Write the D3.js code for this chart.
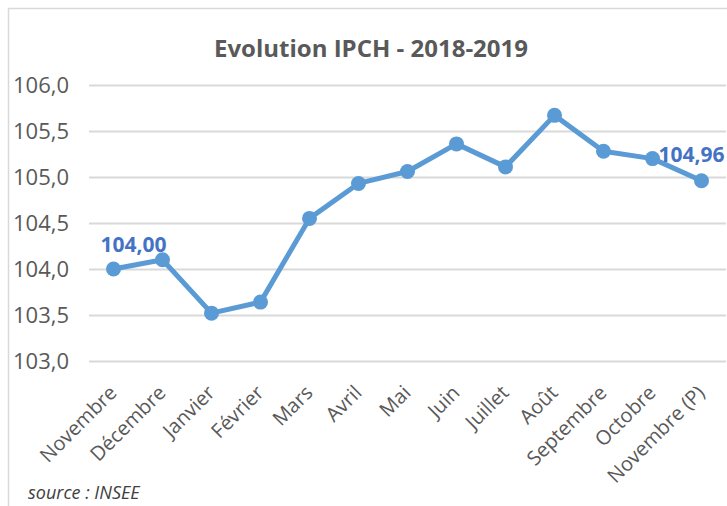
<!DOCTYPE html>
<html>
<head>
<meta charset="utf-8">
<script src="https://cdn.jsdelivr.net/npm/d3@7"></script>
<style>
  body { margin: 0; background: #fff; }
  text { font-family: "Open Sans", "Noto Sans", sans-serif; }
</style>
</head>
<body>
<div id="chart"></div>
<script>
// IPCH monthly index, Nov 2018 - Nov 2019
const months = ["Novembre", "Décembre", "Janvier", "Février", "Mars", "Avril", "Mai",
  "Juin", "Juillet", "Août", "Septembre", "Octobre", "Novembre (P)"];
const ipch = [104.00, 104.10, 103.52, 103.64, 104.55, 104.93, 105.06,
  105.36, 105.11, 105.67, 105.28, 105.20, 104.96];
const yTicks = [103.0, 103.5, 104.0, 104.5, 105.0, 105.5, 106.0];
const labelled = [0, 12];

const width = 727,
    height = 506;

const fmt = d3.formatLocale({ decimal: ",", thousands: " ", grouping: [3], currency: ["", "€"] });

let svg = d3.select("#chart")
    .append("svg")
    .attr("width", width)
    .attr("height", height);

// chart frame (cut by the screenshot on the right and bottom)
svg.append("rect")
    .attr("x", 8.5).attr("y", 8.5)
    .attr("width", width + 20).attr("height", height + 20)
    .attr("fill", "none")
    .attr("stroke", "#d9d9d9")
    .attr("stroke-width", 1.5);

svg.append("text")
    .attr("x", 371).attr("y", 57)
    .attr("text-anchor", "middle")
    .attr("font-size", "24px")
    .attr("font-weight", "bold")
    .attr("fill", "#595959")
    .text("Evolution IPCH - 2018-2019");

let x = d3.scalePoint()
    .domain(months)
    .range([89, 726])
    .padding(0.5);

let y = d3.scaleLinear()
    .domain([103, 106])
    .range([361, 85]);

// gridlines + y labels
let yAxis = svg.append("g")
    .attr("transform", "translate(89,0)")
    .call(d3.axisLeft(y)
        .tickValues(yTicks)
        .tickSize(-637)
        .tickPadding(20)
        .tickFormat(fmt.format(".1f")));
yAxis.select(".domain").remove();
yAxis.selectAll(".tick line")
    .attr("stroke", "#d9d9d9")
    .attr("stroke-width", 2);
yAxis.selectAll(".tick text")
    .attr("fill", "#595959")
    .attr("font-size", "22px");

// x labels
let xAxis = svg.append("g")
    .attr("transform", "translate(0,361)")
    .call(d3.axisBottom(x).tickSize(0));
xAxis.select(".domain").remove();
xAxis.selectAll(".tick text")
    .attr("fill", "#595959")
    .attr("font-size", "20px")
    .attr("text-anchor", "end")
    .attr("y", 0).attr("dy", 0)
    .attr("transform", "translate(4,33) rotate(-45)");

let line = d3.line()
    .x((d, i) => x(months[i]))
    .y(d => y(d));

svg.append("path")
    .datum(ipch)
    .attr("d", line)
    .attr("fill", "none")
    .attr("stroke", "#5b9bd5")
    .attr("stroke-width", 5)
    .attr("stroke-linejoin", "round");

svg.selectAll("circle.pt")
    .data(ipch)
    .enter()
    .append("circle")
    .attr("class", "pt")
    .attr("cx", (d, i) => x(months[i]))
    .attr("cy", d => y(d))
    .attr("r", 7.5)
    .attr("fill", "#5b9bd5");

// data labels on first and last points
const labelOffsets = { 0: [20, -17], 12: [-10, -19] };
svg.selectAll("text.lbl")
    .data(labelled)
    .enter()
    .append("text")
    .attr("class", "lbl")
    .attr("x", i => x(months[i]) + labelOffsets[i][0])
    .attr("y", i => y(ipch[i]) + labelOffsets[i][1])
    .attr("text-anchor", "middle")
    .attr("font-size", "21px")
    .attr("font-weight", "bold")
    .attr("fill", "#4472c4")
    .text(i => fmt.format(".2f")(ipch[i]));

svg.append("text")
    .attr("x", 28).attr("y", 499)
    .attr("font-size", "18px")
    .attr("font-style", "italic")
    .attr("fill", "#404040")
    .text("source : INSEE");
</script>
</body>
</html>
